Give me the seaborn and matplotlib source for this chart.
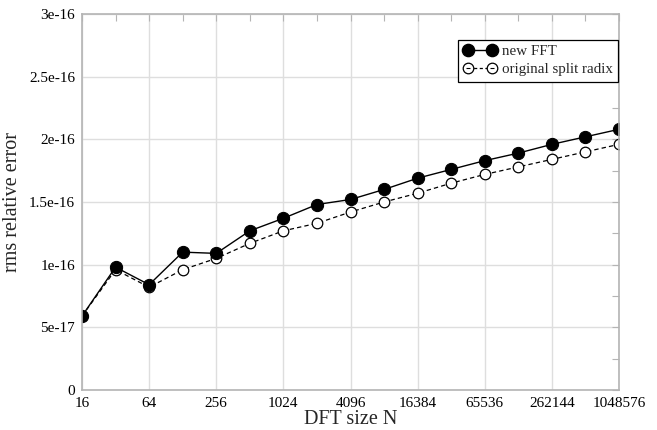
import pandas as pd
import seaborn as sns
import matplotlib
matplotlib.use('Agg')
import matplotlib.pyplot as plt
from matplotlib.lines import Line2D
from matplotlib.ticker import NullFormatter

# DFT sizes (powers of two) and rms relative errors
sizes = [16, 32, 64, 128, 256, 512, 1024, 2048, 4096, 8192, 16384, 32768,
         65536, 131072, 262144, 524288, 1048576]
new_fft = [0.59e-16, 0.98e-16, 0.84e-16, 1.10e-16, 1.09e-16, 1.27e-16, 1.37e-16,
           1.48e-16, 1.52e-16, 1.60e-16, 1.69e-16, 1.76e-16, 1.83e-16, 1.89e-16,
           1.96e-16, 2.02e-16, 2.08e-16]
split_radix = [0.59e-16, 0.96e-16, 0.82e-16, 0.96e-16, 1.05e-16, 1.17e-16, 1.27e-16,
               1.33e-16, 1.42e-16, 1.50e-16, 1.57e-16, 1.65e-16, 1.72e-16, 1.78e-16,
               1.84e-16, 1.90e-16, 1.96e-16]

xtick_vals = [16, 64, 256, 1024, 4096, 16384, 65536, 262144, 1048576]
xtick_labels = ['16', '64', '256', '1024', '4096', '16384', '65536', '262144', '1048576']
ytick_vals = [0, 5e-17, 1e-16, 1.5e-16, 2e-16, 2.5e-16, 3e-16]
ytick_labels = ['0', '5e-17', '1e-16', '1.5e-16', '2e-16', '2.5e-16', '3e-16']
yminor_vals = [2.5e-17, 7.5e-17, 1.25e-16, 1.75e-16, 2.25e-16, 2.75e-16]

df_new = pd.DataFrame({'N': sizes, 'err': new_fft})
df_old = pd.DataFrame({'N': sizes, 'err': split_radix})

sns.set_style('white')
plt.rcParams['font.family'] = ['Liberation Serif', 'DejaVu Serif']

fig = plt.figure(figsize=(6.57, 4.3), dpi=100)
ax = fig.add_axes([82 / 657, 1 - 390 / 430, 537 / 657, 376 / 430])

spine_col = '#b4b4b4'
grid_col = '#dedede'

sns.lineplot(data=df_old, x='N', y='err', ax=ax, color='black', linewidth=0.9,
             linestyle=(0, (3.5, 2.5)), marker='o', markersize=7.6,
             markerfacecolor='white', markeredgecolor='black', markeredgewidth=0.9,
             zorder=3)
sns.lineplot(data=df_old, x='N', y='err', ax=ax, color='black', linewidth=0,
             marker='_', markersize=3, markeredgewidth=0.8, zorder=4)
sns.lineplot(data=df_new, x='N', y='err', ax=ax, color='black', linewidth=1.0,
             marker='o', markersize=8.8, markerfacecolor='black',
             markeredgecolor='black', zorder=5)

ax.set_xscale('log', base=2)
ax.set_xlim(16, 1048576)
ax.set_ylim(0, 3e-16)
ax.set_xticks(xtick_vals)
ax.set_xticklabels(xtick_labels)
ax.set_xticks(sizes, minor=True)
ax.xaxis.set_minor_formatter(NullFormatter())
ax.set_yticks(ytick_vals)
ax.set_yticklabels(ytick_labels)
ax.set_yticks(yminor_vals, minor=True)
ax.yaxis.set_minor_formatter(NullFormatter())

ax.grid(True, which='major', color=grid_col, linewidth=1.0)
ax.set_axisbelow(True)
for s in ax.spines.values():
    s.set_color(spine_col)
    s.set_linewidth(1.2)
    s.set_zorder(6)

ax.tick_params(which='both', direction='in', color=spine_col, top=True, right=True,
               labelsize=11, labelcolor='black')
ax.tick_params(which='major', length=5, pad=5)
ax.tick_params(which='minor', length=5, width=0.8)

ax.set_xlabel('DFT size N', fontsize=14.5, labelpad=0)
ax.set_ylabel('rms relative error', fontsize=14.5, labelpad=5)

# legend handles: filled markers with solid line, hollow markers with dashed line
h_new = Line2D([], [], color='black', linewidth=1.0, marker='o', markersize=8.8,
               markerfacecolor='black')
h_old = Line2D([], [], color='black', linewidth=0.9, linestyle=(0, (2.5, 2)),
               marker='o', markersize=7.6, markerfacecolor='white', markeredgewidth=0.9)
h_dot = Line2D([], [], color='black', linewidth=0, marker='_', markersize=3,
               markeredgewidth=0.8)
leg = ax.legend([h_new, (h_old, h_dot)], ['new FFT', 'original split radix'],
                loc='upper right', bbox_to_anchor=(0.998, 0.932), borderaxespad=0,
                numpoints=2, handlelength=2.2, handletextpad=0.35, fontsize=10.8,
                frameon=True, fancybox=False, edgecolor='black', framealpha=1,
                borderpad=0.35, labelspacing=0.3)
leg.get_frame().set_linewidth(0.9)
leg.set_zorder(10)

fig.savefig('out.png', dpi=100)
